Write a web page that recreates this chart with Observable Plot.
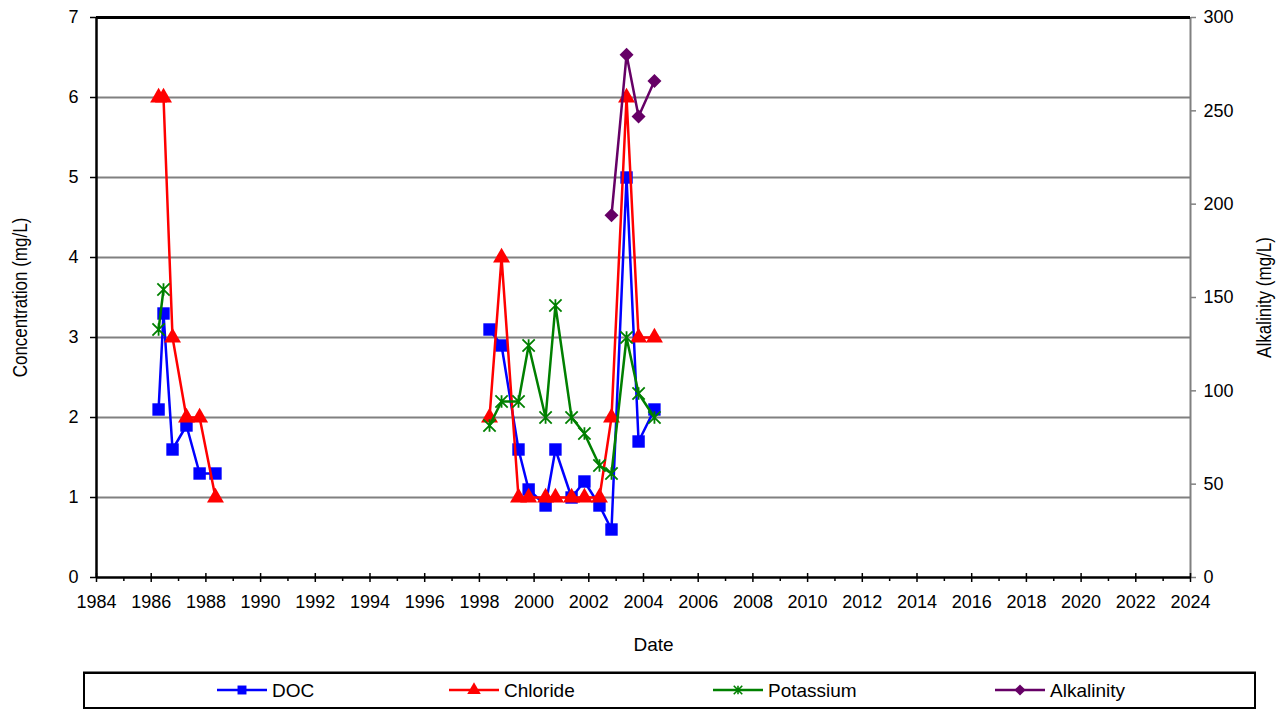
<!DOCTYPE html>
<html>
<head>
<meta charset="utf-8">
<script src="https://cdn.jsdelivr.net/npm/d3@7"></script>
<script src="https://cdn.jsdelivr.net/npm/@observablehq/plot@0.6"></script>
<style>
  html, body { margin: 0; padding: 0; background: #fff; }
  #wrap { position: relative; width: 1283px; height: 710px; overflow: hidden; font-family: "Liberation Sans", Arial, sans-serif; }
  #legend { position: absolute; left: 0; top: 0; }
</style>
</head>
<body>
<div id="wrap"></div>
<script>
// ---------- data (decimal years, mg/L) ----------
const seriesNames = ["DOC", "Chloride", "Potassium", "Alkalinity"];
const seriesColors = ["#0000FF", "#FF0000", "#008000", "#660066"];

const docDates = [1986.27, 1986.45, 1986.78, 1987.29, 1987.77, 1988.35,
  1998.37, 1998.81, 1999.43, 1999.80, 2000.42, 2000.78, 2001.37, 2001.84, 2002.39, 2002.83, 2003.38, 2003.82, 2004.40];
const docValues = [2.1, 3.3, 1.6, 1.9, 1.3, 1.3,
  3.1, 2.9, 1.6, 1.1, 0.9, 1.6, 1.0, 1.2, 0.9, 0.6, 5.0, 1.7, 2.1];

const chlorideDates = [1986.27, 1986.45, 1986.78, 1987.29, 1987.77, 1988.35,
  1998.37, 1998.81, 1999.43, 1999.80, 2000.42, 2000.78, 2001.37, 2001.84, 2002.39, 2002.83, 2003.38, 2003.82, 2004.40];
const chlorideValues = [6, 6, 3, 2, 2, 1,
  2, 4, 1, 1, 1, 1, 1, 1, 1, 2, 6, 3, 3];

const potassiumDates = [1986.27, 1986.45,
  1998.37, 1998.81, 1999.43, 1999.80, 2000.42, 2000.78, 2001.37, 2001.84, 2002.39, 2002.83, 2003.38, 2003.82, 2004.40];
const potassiumValues = [3.1, 3.6,
  1.9, 2.2, 2.2, 2.9, 2.0, 3.4, 2.0, 1.8, 1.4, 1.3, 3.0, 2.3, 2.0];

const alkalinityDates = [2002.83, 2003.38, 2003.82, 2004.40];
const alkalinityValues = [194, 280, 247, 266];

// ---------- axes ----------
const yearMajorTicks = d3.range(1984, 2025, 2);
const yearMinorTicks = d3.range(1985, 2024, 2);
const concTicks = d3.range(0, 8, 1);
const alkTicks = d3.range(0, 301, 50);
const concMax = 7, alkMax = 300;
const xLabel = "Date";
const yLabelLeft = "Concentration (mg/L)";
const yLabelRight = "Alkalinity (mg/L)";

// ---------- build rows ----------
function rows(dates, values) {
  let seg = 0;
  return dates.map((date, i) => {
    if (i > 0 && date - dates[i - 1] > 5) seg++;
    return {date, value: values[i], seg};
  });
}
const docRows = rows(docDates, docValues);
const clRows = rows(chlorideDates, chlorideValues);
const kRows = rows(potassiumDates, potassiumValues);
const alkRows = rows(alkalinityDates, alkalinityValues);
const alkToConc = v => v * concMax / alkMax;

// Excel-like star marker: X plus a short vertical stroke
const starSymbol = {
  draw(context, size) {
    const s = Math.sqrt(size) * 0.55;
    context.moveTo(-s, -s); context.lineTo(s, s);
    context.moveTo(-s, s); context.lineTo(s, -s);
    context.moveTo(0, -s); context.lineTo(0, s);
  }
};

const font = "'Liberation Sans', Arial, sans-serif";
const blank = () => "";

const chart = Plot.plot({
  width: 1283,
  height: 710,
  marginTop: 17,
  marginBottom: 133,
  marginLeft: 96,
  marginRight: 93,
  style: {fontFamily: font, fontSize: "18px", background: "#fff", color: "#000"},
  x: {domain: [1984, 2024]},
  y: {domain: [0, concMax]},
  marks: [
    Plot.gridY(concTicks.filter(d => d > 0 && d < concMax), {stroke: "#808080", strokeOpacity: 1, strokeWidth: 2.2}),
    Plot.ruleX([2024], {stroke: "#808080", strokeWidth: 2}),
    Plot.ruleY([concMax], {stroke: "#000", strokeWidth: 3}),

    // left axis
    Plot.axisY(concTicks, {anchor: "left", tickSize: 6, tickPadding: 12, fontSize: 18, strokeWidth: 1.5,
      tickFormat: d => String(d), label: null}),
    // right axis (alkalinity) on the same frame
    Plot.axisY(alkTicks.map(alkToConc), {anchor: "right", tickSize: 5, tickPadding: 8, fontSize: 18,
      stroke: "#808080", strokeWidth: 1.5, tickFormat: d => String(Math.round(d * alkMax / concMax)), label: null}),
    // bottom axis
    Plot.axisX(yearMajorTicks, {anchor: "bottom", tickSize: 9, dy: -4, strokeWidth: 1.5, tickFormat: blank, label: null}),
    Plot.axisX(yearMinorTicks, {anchor: "bottom", tickSize: 4, strokeWidth: 1.5, tickFormat: blank, label: null}),
    Plot.axisX(yearMajorTicks, {anchor: "bottom", tickSize: 0, tickPadding: 18, fontSize: 18,
      tickFormat: d => String(d), label: null}),

    Plot.ruleY([0], {stroke: "#000", strokeWidth: 2.5}),
    Plot.ruleX([1984], {stroke: "#000", strokeWidth: 2.5}),

    // titles
    Plot.text([xLabel], {text: d => d, frameAnchor: "bottom", dx: 10, dy: 67, lineAnchor: "middle", textAnchor: "middle", fontSize: 19}),
    Plot.text([yLabelLeft], {text: d => d, frameAnchor: "left", dx: -76, rotate: -90, textAnchor: "middle", lineAnchor: "middle", fontSize: 17}),
    Plot.text([yLabelRight], {text: d => d, frameAnchor: "right", dx: 74, rotate: -90, textAnchor: "middle", lineAnchor: "middle", fontSize: 17}),

    // DOC
    Plot.line(docRows, {x: "date", y: "value", z: "seg", stroke: seriesColors[0], strokeWidth: 2.5}),
    Plot.dot(docRows, {x: "date", y: "value", symbol: "square", r: 7, fill: seriesColors[0]}),
    // Chloride
    Plot.line(clRows, {x: "date", y: "value", z: "seg", stroke: seriesColors[1], strokeWidth: 2.5}),
    Plot.dot(clRows, {x: "date", y: "value", symbol: "triangle", r: 6.3, fill: seriesColors[1]}),
    // Potassium
    Plot.line(kRows, {x: "date", y: "value", z: "seg", stroke: seriesColors[2], strokeWidth: 2.5}),
    Plot.dot(kRows, {x: "date", y: "value", symbol: starSymbol, r: 6.3, stroke: seriesColors[2], fill: "none", strokeWidth: 1.8}),
    // Alkalinity (right axis)
    Plot.line(alkRows, {x: "date", y: d => alkToConc(d.value), z: "seg", stroke: seriesColors[3], strokeWidth: 2.5}),
    Plot.dot(alkRows, {x: "date", y: d => alkToConc(d.value), symbol: "diamond2", r: 6.3, fill: seriesColors[3]})
  ]
});

// widen the rotated axis titles slightly (reference text is horizontally stretched)
chart.querySelectorAll("[transform*='rotate']").forEach(el => {
  el.setAttribute("transform", el.getAttribute("transform") + " scale(1,1.22)");
});

const wrap = document.getElementById("wrap");
wrap.appendChild(chart);

// ---------- legend ----------
const legend = d3.select(wrap).append("svg")
  .attr("id", "legend")
  .attr("width", 1283).attr("height", 710)
  .style("pointer-events", "none");

legend.append("rect")
  .attr("x", 84).attr("y", 673).attr("width", 1171).attr("height", 35)
  .attr("fill", "none").attr("stroke", "#000").attr("stroke-width", 2);
legend.append("line")
  .attr("x1", 83).attr("x2", 1256).attr("y1", 672.5).attr("y2", 672.5)
  .attr("stroke", "#000").attr("stroke-width", 2);

const legendSymbols = [d3.symbolSquare, d3.symbolTriangle, starSymbol, d3.symbolDiamond2];
const legendX = [217, 449, 713, 995];
const legendY = 690;
seriesNames.forEach((name, i) => {
  const g = legend.append("g").attr("transform", `translate(${legendX[i]},${legendY})`);
  g.append("line").attr("x1", 0).attr("x2", 50).attr("y1", 0).attr("y2", 0)
    .attr("stroke", seriesColors[i]).attr("stroke-width", 2.5);
  const sym = d3.symbol(legendSymbols[i], i === 2 ? 60 : 80)();
  const p = g.append("path").attr("d", sym).attr("transform", "translate(25,0)");
  if (i === 2) p.attr("fill", "none").attr("stroke", seriesColors[i]).attr("stroke-width", 1.6);
  else p.attr("fill", seriesColors[i]);
  g.append("text").attr("x", 55).attr("y", 0).attr("dy", "0.35em")
    .attr("font-family", font).attr("font-size", 19).attr("fill", "#000")
    .text(name);
});
</script>
</body>
</html>
